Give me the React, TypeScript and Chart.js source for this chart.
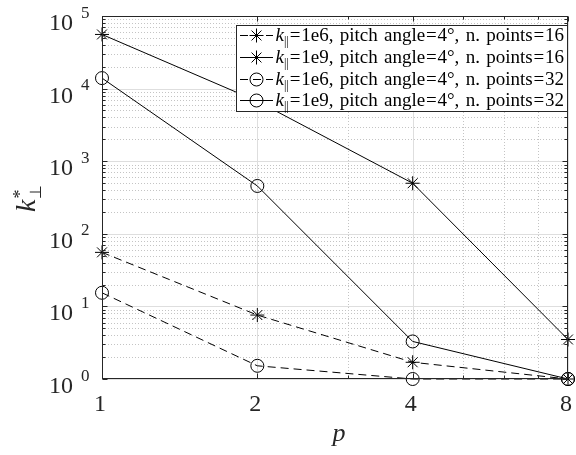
import React, { useEffect, useRef } from 'react';
import { Chart, registerables } from 'chart.js';

Chart.register(...registerables);

// ---- data ----
const pValues = [1, 2, 4, 8];
const k1e6n16 = [55.5, 7.6, 1.7, 1.0];
const k1e9n16 = [55700, 6700, 497, 3.5];
const k1e6n32 = [15.4, 1.52, 1.0, 1.0];
const k1e9n32 = [13950, 456, 3.29, 1.0];

const seriesValues = [k1e6n16, k1e9n16, k1e6n32, k1e9n32];
const seriesKpar = ['1e6', '1e9', '1e6', '1e9'];
const seriesPoints = [16, 16, 32, 32];
const seriesDashed = [true, false, true, false];
const seriesMarker = ['star', 'star', 'circle', 'circle'];

const xTickValues = [1, 2, 4, 8];
const xMinorValues = [3, 5, 6, 7];
const yTickExponents = [0, 1, 2, 3, 4, 5];

const FONT = "'Liberation Serif'";
const AX = '#262626';
const DASH = [8, 5];
const STAR_R = 7;
const CIRCLE_R = 6.5;

function drawMarker(ctx: CanvasRenderingContext2D, style: string, x: number, y: number, r: number) {
  ctx.beginPath();
  if (style === 'circle') {
    ctx.arc(x, y, r, 0, Math.PI * 2);
  } else {
    ctx.moveTo(x - r, y); ctx.lineTo(x + r, y);
    ctx.moveTo(x, y - r); ctx.lineTo(x, y + r);
    const d = r * Math.SQRT1_2;
    ctx.moveTo(x - d, y - d); ctx.lineTo(x + d, y + d);
    ctx.moveTo(x - d, y + d); ctx.lineTo(x + d, y - d);
  }
  ctx.stroke();
}

// natural glyphs; extra room goes to spaces (weight 1) and both sides of '=' (weight 0.5)
function justifiedText(ctx: CanvasRenderingContext2D, text: string, x: number, y: number, endX: number) {
  const parts = text.split(/(=| )/).filter((p) => p.length > 0);
  const widths = parts.map((p) => ctx.measureText(p).width);
  const total = widths.reduce((s, w) => s + w, 0);
  const weights = parts.map((p, i) => {
    if (p === ' ') return 1;
    if (p === '=') return i === 0 ? 0.5 : 1;
    return 0;
  });
  const wsum = weights.reduce((s, w) => s + w, 0);
  const unit = wsum > 0 ? Math.max(0, (endX - x - total) / wsum) : 0;
  let cx = x;
  parts.forEach((p, i) => {
    if (p === '=') {
      cx += (i === 0 ? 0 : 0.5) * unit;
      ctx.fillText(p, cx, y);
      cx += widths[i] + 0.5 * unit;
    } else if (p === ' ') {
      cx += widths[i] + unit;
    } else {
      ctx.fillText(p, cx, y);
      cx += widths[i];
    }
  });
}

const decorPlugin = {
  id: 'decor',
  beforeDatasetsDraw(chart: any) {
    const { ctx, chartArea: a, scales } = chart;
    const xs = scales.x, ys = scales.y;
    ctx.save();
    ctx.lineWidth = 1;
    ctx.strokeStyle = '#c4c4c4';
    ctx.setLineDash([1, 2]);
    for (let e = 0; e < 5; e++) {
      for (let m = 2; m <= 9; m++) {
        const py = Math.round(ys.getPixelForValue(m * Math.pow(10, e))) + 0.5;
        ctx.beginPath(); ctx.moveTo(a.left, py); ctx.lineTo(a.right, py); ctx.stroke();
      }
    }
    for (const v of xMinorValues) {
      const px = Math.round(xs.getPixelForValue(v)) + 0.5;
      ctx.beginPath(); ctx.moveTo(px, a.top); ctx.lineTo(px, a.bottom); ctx.stroke();
    }
    ctx.setLineDash([]);
    ctx.strokeStyle = '#dedede';
    for (const e of yTickExponents) {
      const py = Math.round(ys.getPixelForValue(Math.pow(10, e))) + 0.5;
      ctx.beginPath(); ctx.moveTo(a.left, py); ctx.lineTo(a.right, py); ctx.stroke();
    }
    for (const v of xTickValues) {
      const px = Math.round(xs.getPixelForValue(v)) + 0.5;
      ctx.beginPath(); ctx.moveTo(px, a.top); ctx.lineTo(px, a.bottom); ctx.stroke();
    }
    ctx.restore();
  },
  afterDatasetsDraw(chart: any) {
    const { ctx, chartArea: a, scales } = chart;
    const xs = scales.x, ys = scales.y;
    ctx.save();
    ctx.lineWidth = 1;
    ctx.strokeStyle = AX;
    ctx.setLineDash([]);
    const L = Math.round(a.left) + 0.5, R = Math.round(a.right) - 0.5;
    const T = Math.round(a.top) + 0.5, B = Math.round(a.bottom) - 0.5;
    ctx.strokeRect(L, T, R - L, B - T);
    const hline = (x1: number, x2: number, y: number) => { ctx.beginPath(); ctx.moveTo(x1, y); ctx.lineTo(x2, y); ctx.stroke(); };
    const vline = (x: number, y1: number, y2: number) => { ctx.beginPath(); ctx.moveTo(x, y1); ctx.lineTo(x, y2); ctx.stroke(); };
    for (const e of yTickExponents) {
      const py = Math.round(ys.getPixelForValue(Math.pow(10, e))) + 0.5;
      hline(L, L + 5, py); hline(R, R - 5, py);
      if (e < 5) {
        for (let m = 2; m <= 9; m++) {
          const q = Math.round(ys.getPixelForValue(m * Math.pow(10, e))) + 0.5;
          hline(L, L + 3, q); hline(R, R - 3, q);
        }
      }
    }
    for (const v of xTickValues) {
      const px = Math.round(xs.getPixelForValue(v)) + 0.5;
      vline(px, B, B - 5); vline(px, T, T + 5);
    }
    for (const v of xMinorValues) {
      const px = Math.round(xs.getPixelForValue(v)) + 0.5;
      vline(px, B, B - 3); vline(px, T, T + 3);
    }
    // y tick labels
    ctx.fillStyle = AX;
    ctx.textBaseline = 'alphabetic';
    for (const e of yTickExponents) {
      const py = ys.getPixelForValue(Math.pow(10, e));
      ctx.font = `24px ${FONT}`;
      ctx.textAlign = 'right';
      ctx.fillText('10', 73, py + 14);
      ctx.font = `17px ${FONT}`;
      ctx.textAlign = 'left';
      ctx.fillText(String(e), 81, py + 1.5);
    }
    // x tick labels
    ctx.font = `24px ${FONT}`;
    ctx.textAlign = 'center';
    for (const v of xTickValues) {
      const px = xs.getPixelForValue(v);
      ctx.fillText(String(v), px - 2, 411);
    }
    // x title
    ctx.font = `italic 26px ${FONT}`;
    ctx.fillText('p', 339, 441);
    // y title
    ctx.save();
    ctx.translate(35, 212);
    ctx.rotate(-Math.PI / 2);
    ctx.textAlign = 'left';
    ctx.font = `italic 28px ${FONT}`;
    ctx.fillText('k', 0, 0);
    const kw = ctx.measureText('k').width;
    ctx.font = `18px ${FONT}`;
    ctx.fillText('*', kw + 1, -9);
    ctx.font = `16px ${FONT}`;
    ctx.fillText('\u22A5', kw + 1, 6);
    ctx.restore();

    // legend
    const lx = 236.5, ly = 25.5, lw = 331, lh = 86;
    ctx.fillStyle = '#ffffff';
    ctx.fillRect(lx, ly, lw, lh);
    ctx.strokeStyle = AX;
    ctx.strokeRect(lx, ly, lw, lh);
    const rowY = [35.5, 57.5, 79.5, 100.5];
    for (let i = 0; i < 4; i++) {
      const cy = rowY[i];
      ctx.strokeStyle = '#000';
      ctx.lineWidth = 1;
      ctx.setLineDash(seriesDashed[i] ? DASH : []);
      ctx.beginPath(); ctx.moveTo(240, cy); ctx.lineTo(273, cy); ctx.stroke();
      ctx.setLineDash([]);
      drawMarker(ctx, seriesMarker[i], 256.5, cy, seriesMarker[i] === 'circle' ? CIRCLE_R : STAR_R);
      ctx.fillStyle = '#000';
      const base = cy + 5.5;
      let x = 275.5;
      ctx.textAlign = 'left';
      ctx.font = `italic 19px ${FONT}`;
      ctx.fillText('k', x, base);
      x += ctx.measureText('k').width;
      ctx.font = `12px ${FONT}`;
      ctx.fillText('||', x, base + 4);
      x += ctx.measureText('||').width + 1;
      ctx.font = `19px ${FONT}`;
      const rest = `=${seriesKpar[i]}, pitch angle=4\u00B0, n. points=${seriesPoints[i]}`;
      justifiedText(ctx, rest, x, base, 564);
    }
    ctx.restore();
  },
};

export default function App() {
  const ref = useRef<HTMLCanvasElement>(null);
  useEffect(() => {
    document.body.style.margin = '0';
    const canvas = ref.current;
    if (!canvas) return;
    const datasets = seriesValues.map((vals, i) => ({
      label: `k=${seriesKpar[i]}, n=${seriesPoints[i]}`,
      data: pValues.map((p, j) => ({ x: p, y: vals[j] })),
      borderColor: '#000',
      borderWidth: 1,
      borderDash: seriesDashed[i] ? DASH : [],
      pointStyle: seriesMarker[i],
      pointRadius: seriesMarker[i] === 'circle' ? CIRCLE_R : STAR_R,
      pointBorderWidth: 1,
      pointBorderColor: '#000',
      pointBackgroundColor: 'rgba(0,0,0,0)',
      tension: 0,
      fill: false,
      clip: false as any,
    }));
    const chart = new Chart(canvas, {
      type: 'line',
      data: { datasets },
      options: {
        responsive: false,
        animation: false,
        events: [],
        layout: { padding: { left: 102, right: 1, top: 16, bottom: 76 } },
        plugins: { legend: { display: false }, tooltip: { enabled: false } },
        scales: {
          x: { type: 'logarithmic', min: 1, max: 8, display: false },
          y: { type: 'logarithmic', min: 1, max: 100000, display: false },
        },
      },
      plugins: [decorPlugin],
    });
    return () => chart.destroy();
  }, []);
  return <canvas ref={ref} width={576} height={455} style={{ display: 'block', width: 576, height: 455 }} />;
}
